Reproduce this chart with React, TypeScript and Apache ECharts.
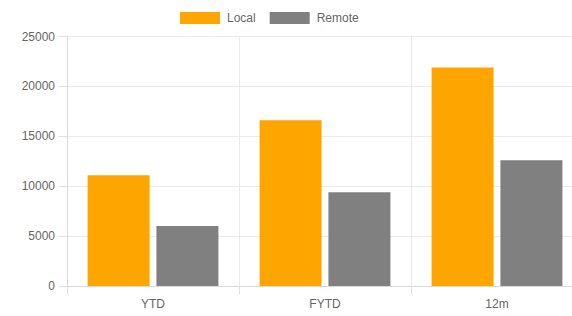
import React, { useEffect, useRef } from "react";
import * as echarts from "echarts";

const categories = ["YTD", "FYTD", "12m"];
const localValues = [11100, 16600, 21900];
const remoteValues = [6000, 9400, 12600];
const seriesNames = ["Local", "Remote"];
const colors = ["#FFA500", "#808080"];

export default function App() {
  const ref = useRef<HTMLDivElement>(null);
  useEffect(() => {
    if (!ref.current) return;
    const chart = echarts.init(ref.current, null, { renderer: "svg" });
    const font = "'Liberation Sans', Arial, Helvetica, sans-serif";
    chart.setOption({
      animation: false,
      textStyle: { fontFamily: font },
      legend: {
        top: 7,
        left: 175,
        itemWidth: 40,
        itemHeight: 12,
        itemGap: 14,
        icon: "rect",
        textStyle: { color: "#666", fontSize: 12, fontFamily: font, padding: [0, 0, 0, 2] },
        data: seriesNames,
      },
      grid: {
        left: 67,
        width: 516,
        top: 36.5,
        height: 249.5,
        containLabel: false,
        outerBoundsMode: "none",
      },
      xAxis: {
        type: "category",
        data: categories,
        axisLine: { show: true, lineStyle: { color: "#d9d9d9" } },
        axisTick: { show: true, length: 8, alignWithLabel: false, lineStyle: { color: "#e0e0e0" } },
        splitLine: { show: true, lineStyle: { color: "#ebebeb" } },
        axisLabel: { color: "#666", fontSize: 12, margin: 12, fontFamily: font },
      },
      yAxis: {
        type: "value",
        min: 0,
        max: 25000,
        interval: 5000,
        axisLine: { show: true, lineStyle: { color: "#d9d9d9" } },
        axisTick: { show: true, length: 8, lineStyle: { color: "#e0e0e0" } },
        splitLine: { show: true, lineStyle: { color: "#ebebeb" } },
        axisLabel: {
          color: "#666",
          fontSize: 12,
          margin: 12,
          fontFamily: font,
          formatter: (v: number) => String(v),
        },
      },
      series: [
        {
          name: seriesNames[0],
          type: "bar",
          data: localValues,
          barWidth: 62,
          barGap: "11%",
          itemStyle: { color: colors[0] },
        },
        {
          name: seriesNames[1],
          type: "bar",
          data: remoteValues,
          barWidth: 62,
          barGap: "11%",
          itemStyle: { color: colors[1] },
        },
      ],
    });
    return () => chart.dispose();
  }, []);
  return <div ref={ref} style={{ width: 572, height: 316, position: "absolute", left: 0, top: 0 }} />;
}
